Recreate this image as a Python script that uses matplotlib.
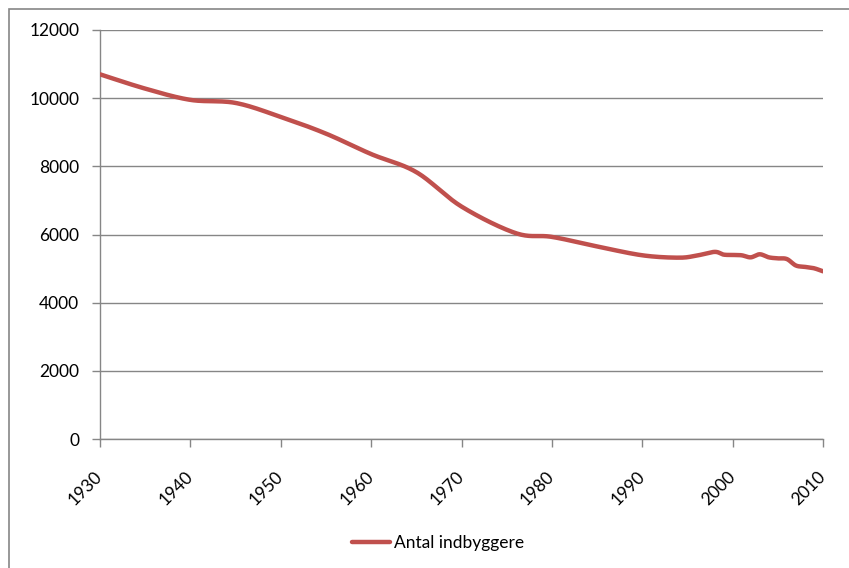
import numpy as np
import matplotlib
matplotlib.use("Agg")
import matplotlib.pyplot as plt
from matplotlib.patches import Rectangle

years = [1930, 1935, 1940, 1945, 1950, 1955, 1960, 1965, 1970, 1976, 1980,
         1985, 1990, 1994, 1996, 1998, 1999, 2000, 2001, 2002, 2003, 2004,
         2005, 2006, 2007, 2008, 2009, 2010]
population = [10700, 10280, 9950, 9860, 9450, 8960, 8360, 7830, 6820, 6040, 5930,
              5650, 5390, 5320, 5380, 5490, 5410, 5400, 5390, 5330, 5420, 5330,
              5300, 5280, 5090, 5050, 5010, 4920]
series_label = "Antal indbyggere"
x_ticks = [1930, 1940, 1950, 1960, 1970, 1980, 1990, 2000, 2010]
y_ticks = [0, 2000, 4000, 6000, 8000, 10000, 12000]


def smooth(xs, ys, n=30):
    """Catmull-Rom style smoothing (like Excel's smoothed line)."""
    xs = np.asarray(xs, float)
    ys = np.asarray(ys, float)
    px = np.concatenate([[xs[0]], xs, [xs[-1]]])
    py = np.concatenate([[ys[0]], ys, [ys[-1]]])
    ox, oy = [], []
    t = np.linspace(0, 1, n, endpoint=False)
    for i in range(1, len(px) - 2):
        p0x, p1x, p2x, p3x = px[i - 1], px[i], px[i + 1], px[i + 2]
        p0y, p1y, p2y, p3y = py[i - 1], py[i], py[i + 1], py[i + 2]
        c1x = p1x + (p2x - p0x) / 6
        c1y = p1y + (p2y - p0y) / 6
        c2x = p2x - (p3x - p1x) / 6
        c2y = p2y - (p3y - p1y) / 6
        bx = (1 - t) ** 3 * p1x + 3 * (1 - t) ** 2 * t * c1x + 3 * (1 - t) * t ** 2 * c2x + t ** 3 * p2x
        by = (1 - t) ** 3 * p1y + 3 * (1 - t) ** 2 * t * c1y + 3 * (1 - t) * t ** 2 * c2y + t ** 3 * p2y
        ox.extend(bx)
        oy.extend(by)
    ox.append(xs[-1])
    oy.append(ys[-1])
    return np.array(ox), np.array(oy)


W, H = 849, 568
fig = plt.figure(figsize=(W / 100, H / 100), dpi=100)
fig.patch.set_facecolor("white")
fig.patches.append(Rectangle((9 / W, -0.1), 1.2, 1 - 9 / H + 0.1, transform=fig.transFigure,
                             fill=False, edgecolor="#868686", linewidth=1.2))

ax = fig.add_axes([100 / W, 1 - 439 / H, (823 - 100) / W, (439 - 30) / H])
sx, sy = smooth(years, population)
ax.plot(sx, sy, color="#C0504D", linewidth=3.2, solid_capstyle="round",
        label=series_label, zorder=3)

ax.set_xlim(1930, 2010)
ax.set_ylim(0, 12000)
ax.set_xticks(x_ticks)
ax.set_yticks(y_ticks)
ax.grid(axis="y", color="#868686", linewidth=1)
for s in ["top", "right"]:
    ax.spines[s].set_visible(False)
for s in ["left", "bottom"]:
    ax.spines[s].set_color("#868686")
    ax.spines[s].set_linewidth(1)
ax.tick_params(axis="both", direction="out", length=6, color="#868686", width=1,
               labelsize=12.5, labelcolor="black")
ax.tick_params(axis="y", pad=9)
ax.set_yticklabels([str(v) for v in y_ticks], family="Lato")
ax.set_xticklabels([str(v) for v in x_ticks], family="Lato", rotation=45,
                   ha="right", va="center", rotation_mode="anchor")
ax.tick_params(axis="x", pad=19)

leg = fig.legend(loc="center", bbox_to_anchor=(438 / W, 1 - 543 / H), frameon=False,
                 prop={"family": "Lato", "size": 12.5}, handlelength=2.2,
                 handletextpad=0.2)

fig.savefig("out.png", dpi=100)
